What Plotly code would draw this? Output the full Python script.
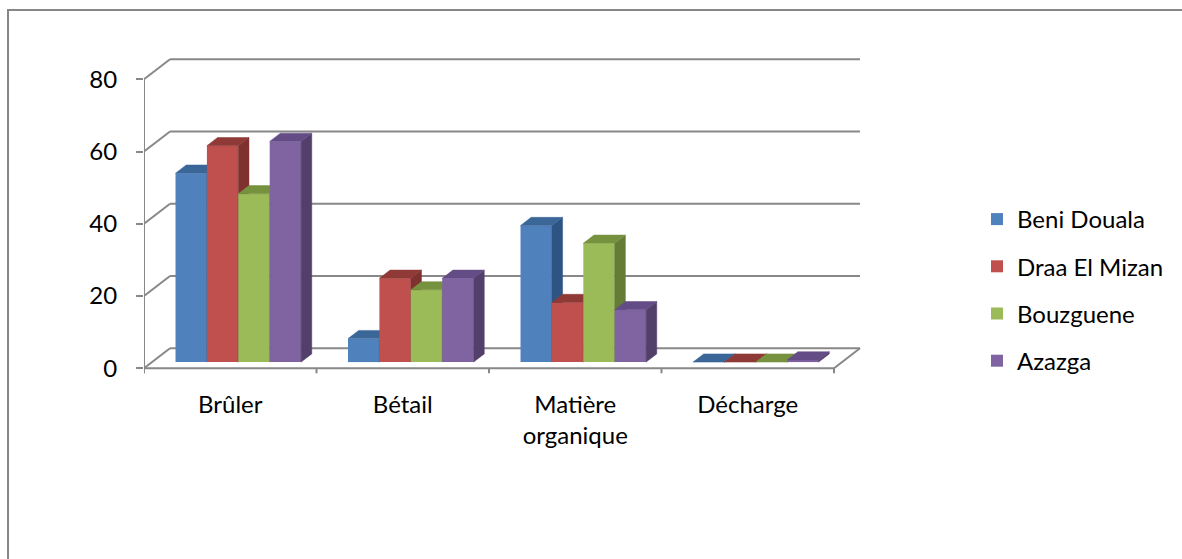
import plotly.graph_objects as go

# ---- data -------------------------------------------------------------
categories = ["Brûler", "Bétail", "Matière<br>organique", "Décharge"]
series_names = ["Beni Douala", "Draa El Mizan", "Bouzguene", "Azazga"]
beni_douala = [52.3, 6.5, 37.8, 0]
draa_el_mizan = [59.9, 23.2, 16.5, 0]
bouzguene = [46.6, 20.0, 32.9, 0]
azazga = [61.1, 23.2, 14.5, 0.6]
y_ticks = [0, 20, 40, 60, 80]

series_values = [beni_douala, draa_el_mizan, bouzguene, azazga]

# ---- styling ------------------------------------------------------------
front_colors = ["#4F81BD", "#C0504D", "#9BBB59", "#8064A2"]
top_colors = ["#3B6698", "#8F3A37", "#77923E", "#644C86"]
side_colors = ["#2E5483", "#7E312F", "#657C36", "#523F6A"]
grid_color = "#888888"
font_family = "Lato, 'Open Sans', sans-serif"
font_size = 24

# oblique projection of the depth axis (in data units)
DX = 0.1507   # horizontal shift of the back wall
DY = 5.536    # vertical shift of the back wall
F0 = 0.31     # depth position of the bar fronts (fraction of floor depth)
FD = 0.41     # bar depth (fraction of floor depth)
W = 0.182     # bar width (category units)

n_cat = len(categories)
XR = [-0.5, -0.5 + 726 / 172.5]
YR = [(368.3 - 385) / 3.6125, (368.3 - 40) / 3.6125]

fig = go.Figure()

# ---- walls, floor and axes frame --------------------------------------
gx, gy = [], []
x_left, x_right = -0.5, n_cat - 0.5
for v in y_ticks:
    # back-wall gridline
    gx += [x_left + DX, x_right + DX, None]
    gy += [v + DY, v + DY, None]
    # side-wall diagonal
    gx += [x_left, x_left + DX, None]
    gy += [v, v + DY, None]
# front vertical axis
gx += [x_left, x_left, None]
gy += [y_ticks[-1], -5 / 3.6125, None]
# front floor edge and right floor edge
gx += [x_left, x_right, x_right + DX, None]
gy += [0, 0, DY, None]
# category tick marks
for k in range(n_cat + 1):
    gx += [x_left + k, x_left + k, None]
    gy += [0, -5 / 3.6125, None]

fig.add_trace(go.Scatter(
    x=gx, y=gy, mode="lines",
    line=dict(color=grid_color, width=2),
    hoverinfo="skip", showlegend=False,
))

# ---- 3-D columns, one overlay subplot per series (painter's order) -----
for s, (name, vals) in enumerate(zip(series_names, series_values)):
    ax = s + 2
    xa, ya = f"x{ax}", f"y{ax}"
    base = F0 * DY
    xs = [i + (s - 1.5) * W + F0 * DX for i in range(n_cat)]

    fig.add_trace(go.Bar(
        x=xs, y=vals, base=base, width=W,
        marker=dict(color=front_colors[s], line=dict(width=0)),
        name=name, xaxis=xa, yaxis=ya, legendgroup=name,
    ))

    side_x, side_y, top_x, top_y = [], [], [], []
    for xc, v in zip(xs, vals):
        xl, xr = xc - W / 2, xc + W / 2
        ddx, ddy = FD * DX, FD * DY
        side_x += [xr, xr + ddx, xr + ddx, xr, xr, None]
        side_y += [base, base + ddy, base + v + ddy, base + v, base, None]
        top_x += [xl, xr, xr + ddx, xl + ddx, xl, None]
        top_y += [base + v, base + v, base + v + ddy, base + v + ddy, base + v, None]

    fig.add_trace(go.Scatter(
        x=side_x, y=side_y, mode="lines", fill="toself",
        fillcolor=side_colors[s], line=dict(color=side_colors[s], width=0.5),
        xaxis=xa, yaxis=ya, hoverinfo="skip", showlegend=False,
    ))
    fig.add_trace(go.Scatter(
        x=top_x, y=top_y, mode="lines", fill="toself",
        fillcolor=top_colors[s], line=dict(color=top_colors[s], width=0.5),
        xaxis=xa, yaxis=ya, hoverinfo="skip", showlegend=False,
    ))

# ---- layout ---------------------------------------------------------------
layout = dict(
    width=1182, height=559,
    margin=dict(l=144, r=1182 - 870, t=40, b=559 - 385),
    paper_bgcolor="white", plot_bgcolor="white",
    barmode="overlay",
    font=dict(family=font_family, size=font_size, color="#000000"),
    showlegend=True,
    legend=dict(
        xref="container", yref="container",
        x=977 / 1182, y=1 - 197 / 559, xanchor="left", yanchor="top",
        font=dict(size=font_size), tracegroupgap=13,
        bgcolor="rgba(0,0,0,0)",
    ),
    xaxis=dict(
        range=XR, showgrid=False, zeroline=False, showline=False,
        tickvals=list(range(n_cat)), ticktext=categories, ticks="",
        ticklabelstandoff=3, fixedrange=True,
    ),
    yaxis=dict(
        range=YR, showgrid=False, zeroline=False, showline=False,
        tickvals=y_ticks, ticks="outside", ticklen=7, tickwidth=2,
        tickcolor=grid_color, ticklabelstandoff=14, fixedrange=True,
    ),
    shapes=[dict(
        type="path", xref="paper", yref="paper",
        path="M -0.1873,-0.6 L -0.1873,1.087 L 1.5,1.087",
        line=dict(color="#868686", width=2),
    )],
)
for s in range(len(series_names)):
    ax = s + 2
    layout[f"xaxis{ax}"] = dict(overlaying="x", range=XR, visible=False,
                                anchor=f"y{ax}", fixedrange=True)
    layout[f"yaxis{ax}"] = dict(overlaying="y", range=YR, visible=False,
                                anchor=f"x{ax}", fixedrange=True)

fig.update_layout(**layout)
fig.write_html("out.html")
